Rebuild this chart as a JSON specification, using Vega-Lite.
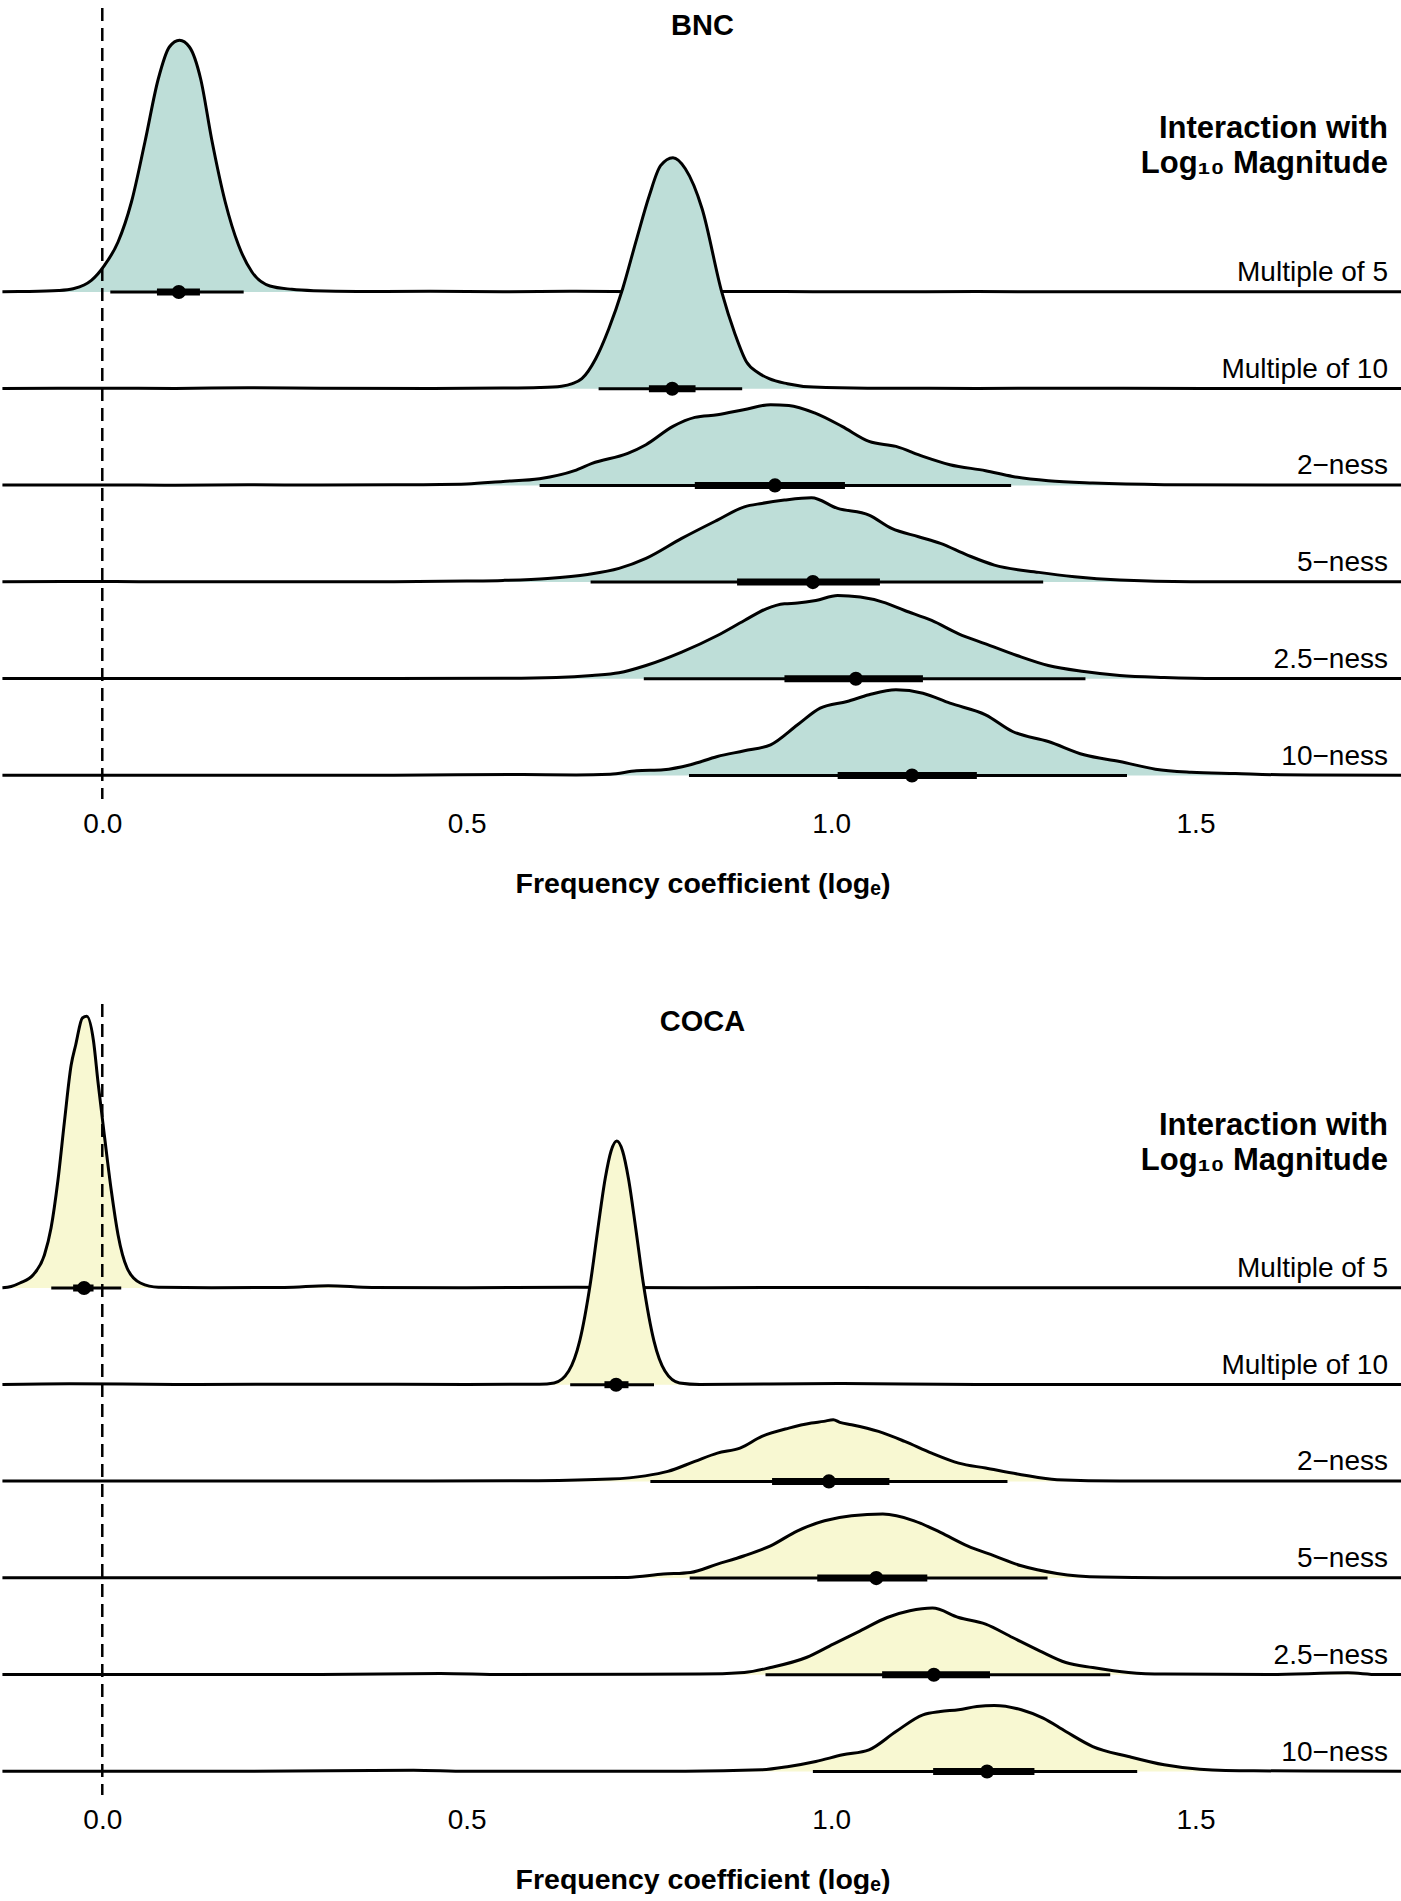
{
"$schema": "https://vega.github.io/schema/vega-lite/v6.json",
"padding": {"top": 6, "bottom": 0, "left": 0, "right": 0},
"background": "#ffffff",
"spacing": 104,
"config": {"view": {"stroke": null}, "font": "Liberation Sans"},
"datasets": {
"bnc": [
{"g":"Multiple of 5","k":"d","x":-0.137,"d":0.01},{"g":"Multiple of 5","k":"d","x":-0.1,"d":0.018},{"g":"Multiple of 5","k":"d","x":-0.06,"d":0.053},{"g":"Multiple of 5","k":"d","x":-0.04,"d":0.116},{"g":"Multiple of 5","k":"d","x":-0.025,"d":0.246},{"g":"Multiple of 5","k":"d","x":-0.015,"d":0.412},{"g":"Multiple of 5","k":"d","x":0.003,"d":0.94},{"g":"Multiple of 5","k":"d","x":0.0216,"d":1.761},{"g":"Multiple of 5","k":"d","x":0.04,"d":3.169},{"g":"Multiple of 5","k":"d","x":0.0585,"d":5.282},{"g":"Multiple of 5","k":"d","x":0.0768,"d":7.5},{"g":"Multiple of 5","k":"d","x":0.092,"d":8.627},{"g":"Multiple of 5","k":"d","x":0.106,"d":8.863},{"g":"Multiple of 5","k":"d","x":0.1196,"d":8.627},{"g":"Multiple of 5","k":"d","x":0.135,"d":7.5},{"g":"Multiple of 5","k":"d","x":0.15,"d":5.387},{"g":"Multiple of 5","k":"d","x":0.1687,"d":3.169},{"g":"Multiple of 5","k":"d","x":0.187,"d":1.644},{"g":"Multiple of 5","k":"d","x":0.2054,"d":0.704},{"g":"Multiple of 5","k":"d","x":0.23,"d":0.211},{"g":"Multiple of 5","k":"d","x":0.26,"d":0.095},{"g":"Multiple of 5","k":"d","x":0.29,"d":0.046},{"g":"Multiple of 5","k":"d","x":0.35,"d":0.018},{"g":"Multiple of 5","k":"d","x":0.45,"d":0.028},{"g":"Multiple of 5","k":"d","x":0.55,"d":0.011},{"g":"Multiple of 5","k":"d","x":0.65,"d":0.025},{"g":"Multiple of 5","k":"d","x":0.75,"d":0.007},{"g":"Multiple of 5","k":"d","x":0.9,"d":0.018},{"g":"Multiple of 5","k":"d","x":1.05,"d":0.007},{"g":"Multiple of 5","k":"d","x":1.2,"d":0.014},{"g":"Multiple of 5","k":"d","x":1.4,"d":0.007},{"g":"Multiple of 5","k":"d","x":1.6,"d":0.011},{"g":"Multiple of 5","k":"d","x":1.784,"d":0.007},
{"g":"Multiple of 5","k":"95","x":0.011,"x2":0.194,"d":0},{"g":"Multiple of 5","k":"66","x":0.075,"x2":0.134,"d":0},{"g":"Multiple of 5","k":"m","x":0.105,"d":0},
{"g":"Multiple of 10","k":"d","x":-0.137,"d":0.011},{"g":"Multiple of 10","k":"d","x":0.0,"d":0.018},{"g":"Multiple of 10","k":"d","x":0.1,"d":0.011},{"g":"Multiple of 10","k":"d","x":0.2,"d":0.035},{"g":"Multiple of 10","k":"d","x":0.3,"d":0.018},{"g":"Multiple of 10","k":"d","x":0.45,"d":0.011},{"g":"Multiple of 10","k":"d","x":0.55,"d":0.021},{"g":"Multiple of 10","k":"d","x":0.6,"d":0.042},{"g":"Multiple of 10","k":"d","x":0.63,"d":0.088},{"g":"Multiple of 10","k":"d","x":0.645,"d":0.176},{"g":"Multiple of 10","k":"d","x":0.658,"d":0.352},{"g":"Multiple of 10","k":"d","x":0.677,"d":1.056},{"g":"Multiple of 10","k":"d","x":0.695,"d":2.113},{"g":"Multiple of 10","k":"d","x":0.714,"d":3.521},{"g":"Multiple of 10","k":"d","x":0.732,"d":5.162},{"g":"Multiple of 10","k":"d","x":0.7505,"d":6.796},{"g":"Multiple of 10","k":"d","x":0.766,"d":7.852},{"g":"Multiple of 10","k":"d","x":0.783,"d":8.134},{"g":"Multiple of 10","k":"d","x":0.8,"d":7.746},{"g":"Multiple of 10","k":"d","x":0.823,"d":6.338},{"g":"Multiple of 10","k":"d","x":0.85,"d":3.401},{"g":"Multiple of 10","k":"d","x":0.868,"d":1.937},{"g":"Multiple of 10","k":"d","x":0.884,"d":0.937},{"g":"Multiple of 10","k":"d","x":0.9,"d":0.563},{"g":"Multiple of 10","k":"d","x":0.915,"d":0.352},{"g":"Multiple of 10","k":"d","x":0.94,"d":0.176},{"g":"Multiple of 10","k":"d","x":0.976,"d":0.056},{"g":"Multiple of 10","k":"d","x":1.05,"d":0.018},{"g":"Multiple of 10","k":"d","x":1.2,"d":0.011},{"g":"Multiple of 10","k":"d","x":1.4,"d":0.014},{"g":"Multiple of 10","k":"d","x":1.6,"d":0.007},{"g":"Multiple of 10","k":"d","x":1.784,"d":0.011},
{"g":"Multiple of 10","k":"95","x":0.681,"x2":0.878,"d":0},{"g":"Multiple of 10","k":"66","x":0.75,"x2":0.814,"d":0},{"g":"Multiple of 10","k":"m","x":0.782,"d":0},
{"g":"2−ness","k":"d","x":-0.137,"d":0.011},{"g":"2−ness","k":"d","x":0.0,"d":0.018},{"g":"2−ness","k":"d","x":0.1,"d":0.007},{"g":"2−ness","k":"d","x":0.2,"d":0.025},{"g":"2−ness","k":"d","x":0.3,"d":0.011},{"g":"2−ness","k":"d","x":0.4,"d":0.021},{"g":"2−ness","k":"d","x":0.5,"d":0.053},{"g":"2−ness","k":"d","x":0.55,"d":0.141},{"g":"2−ness","k":"d","x":0.6,"d":0.236},{"g":"2−ness","k":"d","x":0.648,"d":0.518},{"g":"2−ness","k":"d","x":0.672,"d":0.775},{"g":"2−ness","k":"d","x":0.721,"d":1.127},{"g":"2−ness","k":"d","x":0.746,"d":1.433},{"g":"2−ness","k":"d","x":0.783,"d":2.077},{"g":"2−ness","k":"d","x":0.813,"d":2.394},{"g":"2−ness","k":"d","x":0.844,"d":2.489},{"g":"2−ness","k":"d","x":0.88,"d":2.665},{"g":"2−ness","k":"d","x":0.917,"d":2.842},{"g":"2−ness","k":"d","x":0.942,"d":2.817},{"g":"2−ness","k":"d","x":0.979,"d":2.535},{"g":"2−ness","k":"d","x":1.015,"d":2.077},{"g":"2−ness","k":"d","x":1.052,"d":1.549},{"g":"2−ness","k":"d","x":1.089,"d":1.373},{"g":"2−ness","k":"d","x":1.126,"d":1.021},{"g":"2−ness","k":"d","x":1.163,"d":0.729},{"g":"2−ness","k":"d","x":1.212,"d":0.518},{"g":"2−ness","k":"d","x":1.249,"d":0.317},{"g":"2−ness","k":"d","x":1.298,"d":0.165},{"g":"2−ness","k":"d","x":1.359,"d":0.081},{"g":"2−ness","k":"d","x":1.457,"d":0.025},{"g":"2−ness","k":"d","x":1.6,"d":0.011},{"g":"2−ness","k":"d","x":1.784,"d":0.011},
{"g":"2−ness","k":"95","x":0.6,"x2":1.247,"d":0},{"g":"2−ness","k":"66","x":0.813,"x2":1.019,"d":0},{"g":"2−ness","k":"m","x":0.923,"d":0},
{"g":"5−ness","k":"d","x":-0.137,"d":0.011},{"g":"5−ness","k":"d","x":0.0,"d":0.021},{"g":"5−ness","k":"d","x":0.1,"d":0.011},{"g":"5−ness","k":"d","x":0.25,"d":0.014},{"g":"5−ness","k":"d","x":0.4,"d":0.011},{"g":"5−ness","k":"d","x":0.5,"d":0.035},{"g":"5−ness","k":"d","x":0.55,"d":0.06},{"g":"5−ness","k":"d","x":0.611,"d":0.13},{"g":"5−ness","k":"d","x":0.666,"d":0.271},{"g":"5−ness","k":"d","x":0.709,"d":0.482},{"g":"5−ness","k":"d","x":0.746,"d":0.835},{"g":"5−ness","k":"d","x":0.795,"d":1.539},{"g":"5−ness","k":"d","x":0.844,"d":2.183},{"g":"5−ness","k":"d","x":0.881,"d":2.651},{"g":"5−ness","k":"d","x":0.905,"d":2.771},{"g":"5−ness","k":"d","x":0.936,"d":2.887},{"g":"5−ness","k":"d","x":0.973,"d":2.968},{"g":"5−ness","k":"d","x":1.009,"d":2.595},{"g":"5−ness","k":"d","x":1.052,"d":2.359},{"g":"5−ness","k":"d","x":1.083,"d":1.891},{"g":"5−ness","k":"d","x":1.12,"d":1.595},{"g":"5−ness","k":"d","x":1.15,"d":1.363},{"g":"5−ness","k":"d","x":1.187,"d":0.951},{"g":"5−ness","k":"d","x":1.224,"d":0.599},{"g":"5−ness","k":"d","x":1.285,"d":0.342},{"g":"5−ness","k":"d","x":1.334,"d":0.187},{"g":"5−ness","k":"d","x":1.396,"d":0.07},{"g":"5−ness","k":"d","x":1.494,"d":0.011},{"g":"5−ness","k":"d","x":1.65,"d":0.011},{"g":"5−ness","k":"d","x":1.784,"d":0.011},
{"g":"5−ness","k":"95","x":0.67,"x2":1.291,"d":0},{"g":"5−ness","k":"66","x":0.871,"x2":1.067,"d":0},{"g":"5−ness","k":"m","x":0.975,"d":0},
{"g":"2.5−ness","k":"d","x":-0.137,"d":0.011},{"g":"2.5−ness","k":"d","x":0.0,"d":0.011},{"g":"2.5−ness","k":"d","x":0.2,"d":0.011},{"g":"2.5−ness","k":"d","x":0.4,"d":0.011},{"g":"2.5−ness","k":"d","x":0.55,"d":0.018},{"g":"2.5−ness","k":"d","x":0.623,"d":0.046},{"g":"2.5−ness","k":"d","x":0.672,"d":0.116},{"g":"2.5−ness","k":"d","x":0.709,"d":0.211},{"g":"2.5−ness","k":"d","x":0.746,"d":0.468},{"g":"2.5−ness","k":"d","x":0.795,"d":0.94},{"g":"2.5−ness","k":"d","x":0.844,"d":1.525},{"g":"2.5−ness","k":"d","x":0.881,"d":2.053},{"g":"2.5−ness","k":"d","x":0.911,"d":2.465},{"g":"2.5−ness","k":"d","x":0.936,"d":2.641},{"g":"2.5−ness","k":"d","x":0.954,"d":2.665},{"g":"2.5−ness","k":"d","x":0.979,"d":2.757},{"g":"2.5−ness","k":"d","x":1.009,"d":2.933},{"g":"2.5−ness","k":"d","x":1.04,"d":2.877},{"g":"2.5−ness","k":"d","x":1.071,"d":2.701},{"g":"2.5−ness","k":"d","x":1.101,"d":2.405},{"g":"2.5−ness","k":"d","x":1.138,"d":2.053},{"g":"2.5−ness","k":"d","x":1.175,"d":1.585},{"g":"2.5−ness","k":"d","x":1.212,"d":1.232},{"g":"2.5−ness","k":"d","x":1.255,"d":0.82},{"g":"2.5−ness","k":"d","x":1.298,"d":0.468},{"g":"2.5−ness","k":"d","x":1.347,"d":0.257},{"g":"2.5−ness","k":"d","x":1.396,"d":0.116},{"g":"2.5−ness","k":"d","x":1.457,"d":0.046},{"g":"2.5−ness","k":"d","x":1.53,"d":0.011},{"g":"2.5−ness","k":"d","x":1.784,"d":0.011},
{"g":"2.5−ness","k":"95","x":0.743,"x2":1.349,"d":0},{"g":"2.5−ness","k":"66","x":0.936,"x2":1.126,"d":0},{"g":"2.5−ness","k":"m","x":1.034,"d":0},
{"g":"10−ness","k":"d","x":-0.137,"d":0.011},{"g":"10−ness","k":"d","x":0.0,"d":0.011},{"g":"10−ness","k":"d","x":0.2,"d":0.011},{"g":"10−ness","k":"d","x":0.4,"d":0.011},{"g":"10−ness","k":"d","x":0.574,"d":0.035},{"g":"10−ness","k":"d","x":0.65,"d":0.018},{"g":"10−ness","k":"d","x":0.697,"d":0.046},{"g":"10−ness","k":"d","x":0.733,"d":0.165},{"g":"10−ness","k":"d","x":0.77,"d":0.201},{"g":"10−ness","k":"d","x":0.807,"d":0.377},{"g":"10−ness","k":"d","x":0.844,"d":0.669},{"g":"10−ness","k":"d","x":0.881,"d":0.87},{"g":"10−ness","k":"d","x":0.917,"d":1.081},{"g":"10−ness","k":"d","x":0.954,"d":1.785},{"g":"10−ness","k":"d","x":0.985,"d":2.37},{"g":"10−ness","k":"d","x":1.022,"d":2.606},{"g":"10−ness","k":"d","x":1.052,"d":2.842},{"g":"10−ness","k":"d","x":1.089,"d":3.018},{"g":"10−ness","k":"d","x":1.126,"d":2.898},{"g":"10−ness","k":"d","x":1.163,"d":2.546},{"g":"10−ness","k":"d","x":1.212,"d":2.137},{"g":"10−ness","k":"d","x":1.249,"d":1.549},{"g":"10−ness","k":"d","x":1.298,"d":1.197},{"g":"10−ness","k":"d","x":1.347,"d":0.729},{"g":"10−ness","k":"d","x":1.396,"d":0.493},{"g":"10−ness","k":"d","x":1.445,"d":0.222},{"g":"10−ness","k":"d","x":1.494,"d":0.116},{"g":"10−ness","k":"d","x":1.555,"d":0.07},{"g":"10−ness","k":"d","x":1.617,"d":0.025},{"g":"10−ness","k":"d","x":1.784,"d":0.011},
{"g":"10−ness","k":"95","x":0.805,"x2":1.406,"d":0},{"g":"10−ness","k":"66","x":1.009,"x2":1.2,"d":0},{"g":"10−ness","k":"m","x":1.111,"d":0}
],
"coca": [
{"g":"Multiple of 5","k":"d","x":-0.137,"d":0.016},{"g":"Multiple of 5","k":"d","x":-0.125,"d":0.082},{"g":"Multiple of 5","k":"d","x":-0.113,"d":0.273},{"g":"Multiple of 5","k":"d","x":-0.0947,"d":0.727},{"g":"Multiple of 5","k":"d","x":-0.0794,"d":1.803},{"g":"Multiple of 5","k":"d","x":-0.0703,"d":3.279},{"g":"Multiple of 5","k":"d","x":-0.061,"d":5.831},{"g":"Multiple of 5","k":"d","x":-0.0519,"d":9.109},{"g":"Multiple of 5","k":"d","x":-0.0427,"d":12.186},{"g":"Multiple of 5","k":"d","x":-0.0365,"d":13.279},{"g":"Multiple of 5","k":"d","x":-0.0273,"d":14.754},{"g":"Multiple of 5","k":"d","x":-0.0213,"d":14.847},{"g":"Multiple of 5","k":"d","x":-0.012,"d":13.481},{"g":"Multiple of 5","k":"d","x":-0.006,"d":11.295},{"g":"Multiple of 5","k":"d","x":0.0033,"d":8.197},{"g":"Multiple of 5","k":"d","x":0.0125,"d":5.284},{"g":"Multiple of 5","k":"d","x":0.0216,"d":2.913},{"g":"Multiple of 5","k":"d","x":0.034,"d":1.093},{"g":"Multiple of 5","k":"d","x":0.0523,"d":0.273},{"g":"Multiple of 5","k":"d","x":0.077,"d":0.038},{"g":"Multiple of 5","k":"d","x":0.15,"d":0.016},{"g":"Multiple of 5","k":"d","x":0.25,"d":0.027},{"g":"Multiple of 5","k":"d","x":0.31,"d":0.126},{"g":"Multiple of 5","k":"d","x":0.37,"d":0.027},{"g":"Multiple of 5","k":"d","x":0.5,"d":0.016},{"g":"Multiple of 5","k":"d","x":0.65,"d":0.044},{"g":"Multiple of 5","k":"d","x":0.8,"d":0.016},{"g":"Multiple of 5","k":"d","x":1.0,"d":0.027},{"g":"Multiple of 5","k":"d","x":1.2,"d":0.016},{"g":"Multiple of 5","k":"d","x":1.5,"d":0.016},{"g":"Multiple of 5","k":"d","x":1.784,"d":0.016},
{"g":"Multiple of 5","k":"95","x":-0.07,"x2":0.026,"d":0},{"g":"Multiple of 5","k":"66","x":-0.04,"x2":-0.012,"d":0},{"g":"Multiple of 5","k":"m","x":-0.025,"d":0},
{"g":"Multiple of 10","k":"d","x":-0.137,"d":0.016},{"g":"Multiple of 10","k":"d","x":-0.045,"d":0.055},{"g":"Multiple of 10","k":"d","x":0.1,"d":0.016},{"g":"Multiple of 10","k":"d","x":0.3,"d":0.027},{"g":"Multiple of 10","k":"d","x":0.5,"d":0.016},{"g":"Multiple of 10","k":"d","x":0.6,"d":0.027},{"g":"Multiple of 10","k":"d","x":0.62,"d":0.098},{"g":"Multiple of 10","k":"d","x":0.64,"d":0.749},{"g":"Multiple of 10","k":"d","x":0.655,"d":2.383},{"g":"Multiple of 10","k":"d","x":0.67,"d":5.628},{"g":"Multiple of 10","k":"d","x":0.68,"d":8.525},{"g":"Multiple of 10","k":"d","x":0.69,"d":11.257},{"g":"Multiple of 10","k":"d","x":0.698,"d":12.76},{"g":"Multiple of 10","k":"d","x":0.706,"d":13.317},{"g":"Multiple of 10","k":"d","x":0.714,"d":12.76},{"g":"Multiple of 10","k":"d","x":0.722,"d":11.257},{"g":"Multiple of 10","k":"d","x":0.732,"d":8.525},{"g":"Multiple of 10","k":"d","x":0.742,"d":5.628},{"g":"Multiple of 10","k":"d","x":0.757,"d":2.383},{"g":"Multiple of 10","k":"d","x":0.772,"d":0.749},{"g":"Multiple of 10","k":"d","x":0.792,"d":0.098},{"g":"Multiple of 10","k":"d","x":0.82,"d":0.016},{"g":"Multiple of 10","k":"d","x":1.01,"d":0.066},{"g":"Multiple of 10","k":"d","x":1.2,"d":0.016},{"g":"Multiple of 10","k":"d","x":1.5,"d":0.016},{"g":"Multiple of 10","k":"d","x":1.784,"d":0.016},
{"g":"Multiple of 10","k":"95","x":0.642,"x2":0.757,"d":0},{"g":"Multiple of 10","k":"66","x":0.689,"x2":0.722,"d":0},{"g":"Multiple of 10","k":"m","x":0.705,"d":0},
{"g":"2−ness","k":"d","x":-0.137,"d":0.016},{"g":"2−ness","k":"d","x":0.2,"d":0.016},{"g":"2−ness","k":"d","x":0.45,"d":0.016},{"g":"2−ness","k":"d","x":0.598,"d":0.038},{"g":"2−ness","k":"d","x":0.697,"d":0.126},{"g":"2−ness","k":"d","x":0.745,"d":0.301},{"g":"2−ness","k":"d","x":0.776,"d":0.546},{"g":"2−ness","k":"d","x":0.813,"d":1.093},{"g":"2−ness","k":"d","x":0.844,"d":1.546},{"g":"2−ness","k":"d","x":0.875,"d":1.82},{"g":"2−ness","k":"d","x":0.905,"d":2.459},{"g":"2−ness","k":"d","x":0.942,"d":2.913},{"g":"2−ness","k":"d","x":0.973,"d":3.186},{"g":"2−ness","k":"d","x":0.99,"d":3.279},{"g":"2−ness","k":"d","x":1.003,"d":3.372},{"g":"2−ness","k":"d","x":1.012,"d":3.224},{"g":"2−ness","k":"d","x":1.028,"d":3.098},{"g":"2−ness","k":"d","x":1.065,"d":2.732},{"g":"2−ness","k":"d","x":1.101,"d":2.186},{"g":"2−ness","k":"d","x":1.138,"d":1.546},{"g":"2−ness","k":"d","x":1.175,"d":1.0},{"g":"2−ness","k":"d","x":1.212,"d":0.727},{"g":"2−ness","k":"d","x":1.261,"d":0.366},{"g":"2−ness","k":"d","x":1.31,"d":0.093},{"g":"2−ness","k":"d","x":1.396,"d":0.016},{"g":"2−ness","k":"d","x":1.784,"d":0.016},
{"g":"2−ness","k":"95","x":0.752,"x2":1.242,"d":0},{"g":"2−ness","k":"66","x":0.919,"x2":1.08,"d":0},{"g":"2−ness","k":"m","x":0.997,"d":0},
{"g":"5−ness","k":"d","x":-0.137,"d":0.016},{"g":"5−ness","k":"d","x":0.3,"d":0.016},{"g":"5−ness","k":"d","x":0.6,"d":0.016},{"g":"5−ness","k":"d","x":0.721,"d":0.038},{"g":"5−ness","k":"d","x":0.77,"d":0.219},{"g":"5−ness","k":"d","x":0.807,"d":0.311},{"g":"5−ness","k":"d","x":0.844,"d":0.765},{"g":"5−ness","k":"d","x":0.881,"d":1.219},{"g":"5−ness","k":"d","x":0.917,"d":1.765},{"g":"5−ness","k":"d","x":0.954,"d":2.585},{"g":"5−ness","k":"d","x":0.991,"d":3.131},{"g":"5−ness","k":"d","x":1.028,"d":3.404},{"g":"5−ness","k":"d","x":1.071,"d":3.497},{"g":"5−ness","k":"d","x":1.114,"d":3.131},{"g":"5−ness","k":"d","x":1.15,"d":2.497},{"g":"5−ness","k":"d","x":1.187,"d":1.765},{"g":"5−ness","k":"d","x":1.224,"d":1.219},{"g":"5−ness","k":"d","x":1.261,"d":0.672},{"g":"5−ness","k":"d","x":1.31,"d":0.257},{"g":"5−ness","k":"d","x":1.371,"d":0.055},{"g":"5−ness","k":"d","x":1.457,"d":0.016},{"g":"5−ness","k":"d","x":1.784,"d":0.016},
{"g":"5−ness","k":"95","x":0.806,"x2":1.297,"d":0},{"g":"5−ness","k":"66","x":0.981,"x2":1.132,"d":0},{"g":"5−ness","k":"m","x":1.062,"d":0},
{"g":"2.5−ness","k":"d","x":-0.137,"d":0.016},{"g":"2.5−ness","k":"d","x":0.3,"d":0.016},{"g":"2.5−ness","k":"d","x":0.464,"d":0.071},{"g":"2.5−ness","k":"d","x":0.55,"d":0.016},{"g":"2.5−ness","k":"d","x":0.819,"d":0.038},{"g":"2.5−ness","k":"d","x":0.881,"d":0.126},{"g":"2.5−ness","k":"d","x":0.917,"d":0.399},{"g":"2.5−ness","k":"d","x":0.966,"d":0.945},{"g":"2.5−ness","k":"d","x":1.003,"d":1.678},{"g":"2.5−ness","k":"d","x":1.04,"d":2.404},{"g":"2.5−ness","k":"d","x":1.077,"d":3.131},{"g":"2.5−ness","k":"d","x":1.108,"d":3.497},{"g":"2.5−ness","k":"d","x":1.139,"d":3.645},{"g":"2.5−ness","k":"d","x":1.175,"d":3.131},{"g":"2.5−ness","k":"d","x":1.212,"d":2.77},{"g":"2.5−ness","k":"d","x":1.249,"d":2.038},{"g":"2.5−ness","k":"d","x":1.286,"d":1.311},{"g":"2.5−ness","k":"d","x":1.322,"d":0.672},{"g":"2.5−ness","k":"d","x":1.359,"d":0.399},{"g":"2.5−ness","k":"d","x":1.408,"d":0.126},{"g":"2.5−ness","k":"d","x":1.457,"d":0.038},{"g":"2.5−ness","k":"d","x":1.6,"d":0.016},{"g":"2.5−ness","k":"d","x":1.709,"d":0.109},{"g":"2.5−ness","k":"d","x":1.75,"d":0.016},{"g":"2.5−ness","k":"d","x":1.784,"d":0.016},
{"g":"2.5−ness","k":"95","x":0.91,"x2":1.383,"d":0},{"g":"2.5−ness","k":"66","x":1.07,"x2":1.218,"d":0},{"g":"2.5−ness","k":"m","x":1.141,"d":0},
{"g":"10−ness","k":"d","x":-0.137,"d":0.016},{"g":"10−ness","k":"d","x":0.2,"d":0.016},{"g":"10−ness","k":"d","x":0.427,"d":0.071},{"g":"10−ness","k":"d","x":0.5,"d":0.016},{"g":"10−ness","k":"d","x":0.8,"d":0.016},{"g":"10−ness","k":"d","x":0.905,"d":0.093},{"g":"10−ness","k":"d","x":0.942,"d":0.273},{"g":"10−ness","k":"d","x":0.979,"d":0.546},{"g":"10−ness","k":"d","x":1.016,"d":0.913},{"g":"10−ness","k":"d","x":1.052,"d":1.186},{"g":"10−ness","k":"d","x":1.089,"d":2.186},{"g":"10−ness","k":"d","x":1.126,"d":3.098},{"g":"10−ness","k":"d","x":1.15,"d":3.279},{"g":"10−ness","k":"d","x":1.175,"d":3.372},{"g":"10−ness","k":"d","x":1.2,"d":3.552},{"g":"10−ness","k":"d","x":1.224,"d":3.607},{"g":"10−ness","k":"d","x":1.261,"d":3.372},{"g":"10−ness","k":"d","x":1.291,"d":2.913},{"g":"10−ness","k":"d","x":1.322,"d":2.186},{"g":"10−ness","k":"d","x":1.359,"d":1.366},{"g":"10−ness","k":"d","x":1.408,"d":0.82},{"g":"10−ness","k":"d","x":1.457,"d":0.366},{"g":"10−ness","k":"d","x":1.506,"d":0.126},{"g":"10−ness","k":"d","x":1.58,"d":0.038},{"g":"10−ness","k":"d","x":1.784,"d":0.016},
{"g":"10−ness","k":"95","x":0.975,"x2":1.42,"d":0},{"g":"10−ness","k":"66","x":1.14,"x2":1.279,"d":0},{"g":"10−ness","k":"m","x":1.214,"d":0}
]
},
"vconcat": [
{
"data": {"name": "bnc"},
"width": 1401, "height": 791,
"title": {"text": "BNC", "fontSize": 29, "fontWeight": "bold", "color": "#000000", "anchor": "middle", "offset": -34},
"encoding": {"x": {"field": "x", "type": "quantitative", "scale": {"domain": [-0.1376, 1.7847], "nice": false, "zero": false},
  "axis": {"values": [0, 0.5, 1, 1.5], "format": ".1f", "domain": false, "ticks": false, "grid": false, "labelFontSize": 28, "labelColor": "#000000", "labelPadding": 11, "title": "Frequency coefficient (logₑ)", "titleFontSize": 28.5, "titleFontWeight": "bold", "titleColor": "#000000", "titlePadding": 31}}},
"resolve": {"scale": {"y": "independent"}},
"layer": [
{"transform": [{"filter": {"field": "g", "equal": "Multiple of 5"}}],
 "encoding": {"y": {"field": "d", "type": "quantitative", "scale": {"domain": [0, 10], "range": [284, 0]}, "axis": null}},
 "layer": [
  {"transform": [{"filter": {"field": "k", "equal": "d"}}], "mark": {"type": "area", "fill": "#BEDED8", "interpolate": "monotone"}},
  {"transform": [{"filter": {"field": "k", "equal": "d"}}], "mark": {"type": "line", "stroke": "#000000", "strokeWidth": 3, "interpolate": "monotone", "strokeJoin": "round"}},
  {"transform": [{"filter": {"field": "k", "equal": "95"}}], "mark": {"type": "rule", "stroke": "#000000", "strokeWidth": 3}, "encoding": {"x2": {"field": "x2"}}},
  {"transform": [{"filter": {"field": "k", "equal": "66"}}], "mark": {"type": "rule", "stroke": "#000000", "strokeWidth": 7}, "encoding": {"x2": {"field": "x2"}}},
  {"transform": [{"filter": {"field": "k", "equal": "m"}}], "mark": {"type": "circle", "fill": "#000000", "size": 200, "opacity": 1}},
  {"transform": [{"filter": {"field": "k", "equal": "m"}}], "mark": {"type": "text", "align": "right", "baseline": "alphabetic", "dy": -11, "fontSize": 28, "color": "#000000"}, "encoding": {"x": {"datum": 1.7641}, "text": {"field": "g"}}},
  {"transform": [{"filter": {"field": "k", "equal": "m"}}], "mark": {"type": "text", "text": ["Interaction with", "Log₁₀ Magnitude"], "align": "right", "baseline": "middle", "lineHeight": 35, "fontSize": 31, "fontWeight": "bold", "color": "#000000"}, "encoding": {"x": {"datum": 1.7641}, "y": {"datum": 5.757}}}
 ]},
{"transform": [{"filter": {"field": "g", "equal": "Multiple of 10"}}],
 "encoding": {"y": {"field": "d", "type": "quantitative", "scale": {"domain": [0, 10], "range": [380.7, 96.7]}, "axis": null}},
 "layer": [
  {"transform": [{"filter": {"field": "k", "equal": "d"}}], "mark": {"type": "area", "fill": "#BEDED8", "interpolate": "monotone"}},
  {"transform": [{"filter": {"field": "k", "equal": "d"}}], "mark": {"type": "line", "stroke": "#000000", "strokeWidth": 3, "interpolate": "monotone", "strokeJoin": "round"}},
  {"transform": [{"filter": {"field": "k", "equal": "95"}}], "mark": {"type": "rule", "stroke": "#000000", "strokeWidth": 3}, "encoding": {"x2": {"field": "x2"}}},
  {"transform": [{"filter": {"field": "k", "equal": "66"}}], "mark": {"type": "rule", "stroke": "#000000", "strokeWidth": 7}, "encoding": {"x2": {"field": "x2"}}},
  {"transform": [{"filter": {"field": "k", "equal": "m"}}], "mark": {"type": "circle", "fill": "#000000", "size": 200, "opacity": 1}},
  {"transform": [{"filter": {"field": "k", "equal": "m"}}], "mark": {"type": "text", "align": "right", "baseline": "alphabetic", "dy": -11, "fontSize": 28, "color": "#000000"}, "encoding": {"x": {"datum": 1.7641}, "text": {"field": "g"}}}
 ]},
{"transform": [{"filter": {"field": "g", "equal": "2−ness"}}],
 "encoding": {"y": {"field": "d", "type": "quantitative", "scale": {"domain": [0, 10], "range": [477.4, 193.4]}, "axis": null}},
 "layer": [
  {"transform": [{"filter": {"field": "k", "equal": "d"}}], "mark": {"type": "area", "fill": "#BEDED8", "interpolate": "monotone"}},
  {"transform": [{"filter": {"field": "k", "equal": "d"}}], "mark": {"type": "line", "stroke": "#000000", "strokeWidth": 3, "interpolate": "monotone", "strokeJoin": "round"}},
  {"transform": [{"filter": {"field": "k", "equal": "95"}}], "mark": {"type": "rule", "stroke": "#000000", "strokeWidth": 3}, "encoding": {"x2": {"field": "x2"}}},
  {"transform": [{"filter": {"field": "k", "equal": "66"}}], "mark": {"type": "rule", "stroke": "#000000", "strokeWidth": 7}, "encoding": {"x2": {"field": "x2"}}},
  {"transform": [{"filter": {"field": "k", "equal": "m"}}], "mark": {"type": "circle", "fill": "#000000", "size": 200, "opacity": 1}},
  {"transform": [{"filter": {"field": "k", "equal": "m"}}], "mark": {"type": "text", "align": "right", "baseline": "alphabetic", "dy": -11, "fontSize": 28, "color": "#000000"}, "encoding": {"x": {"datum": 1.7641}, "text": {"field": "g"}}}
 ]},
{"transform": [{"filter": {"field": "g", "equal": "5−ness"}}],
 "encoding": {"y": {"field": "d", "type": "quantitative", "scale": {"domain": [0, 10], "range": [574.1, 290.1]}, "axis": null}},
 "layer": [
  {"transform": [{"filter": {"field": "k", "equal": "d"}}], "mark": {"type": "area", "fill": "#BEDED8", "interpolate": "monotone"}},
  {"transform": [{"filter": {"field": "k", "equal": "d"}}], "mark": {"type": "line", "stroke": "#000000", "strokeWidth": 3, "interpolate": "monotone", "strokeJoin": "round"}},
  {"transform": [{"filter": {"field": "k", "equal": "95"}}], "mark": {"type": "rule", "stroke": "#000000", "strokeWidth": 3}, "encoding": {"x2": {"field": "x2"}}},
  {"transform": [{"filter": {"field": "k", "equal": "66"}}], "mark": {"type": "rule", "stroke": "#000000", "strokeWidth": 7}, "encoding": {"x2": {"field": "x2"}}},
  {"transform": [{"filter": {"field": "k", "equal": "m"}}], "mark": {"type": "circle", "fill": "#000000", "size": 200, "opacity": 1}},
  {"transform": [{"filter": {"field": "k", "equal": "m"}}], "mark": {"type": "text", "align": "right", "baseline": "alphabetic", "dy": -11, "fontSize": 28, "color": "#000000"}, "encoding": {"x": {"datum": 1.7641}, "text": {"field": "g"}}}
 ]},
{"transform": [{"filter": {"field": "g", "equal": "2.5−ness"}}],
 "encoding": {"y": {"field": "d", "type": "quantitative", "scale": {"domain": [0, 10], "range": [670.8, 386.8]}, "axis": null}},
 "layer": [
  {"transform": [{"filter": {"field": "k", "equal": "d"}}], "mark": {"type": "area", "fill": "#BEDED8", "interpolate": "monotone"}},
  {"transform": [{"filter": {"field": "k", "equal": "d"}}], "mark": {"type": "line", "stroke": "#000000", "strokeWidth": 3, "interpolate": "monotone", "strokeJoin": "round"}},
  {"transform": [{"filter": {"field": "k", "equal": "95"}}], "mark": {"type": "rule", "stroke": "#000000", "strokeWidth": 3}, "encoding": {"x2": {"field": "x2"}}},
  {"transform": [{"filter": {"field": "k", "equal": "66"}}], "mark": {"type": "rule", "stroke": "#000000", "strokeWidth": 7}, "encoding": {"x2": {"field": "x2"}}},
  {"transform": [{"filter": {"field": "k", "equal": "m"}}], "mark": {"type": "circle", "fill": "#000000", "size": 200, "opacity": 1}},
  {"transform": [{"filter": {"field": "k", "equal": "m"}}], "mark": {"type": "text", "align": "right", "baseline": "alphabetic", "dy": -11, "fontSize": 28, "color": "#000000"}, "encoding": {"x": {"datum": 1.7641}, "text": {"field": "g"}}}
 ]},
{"transform": [{"filter": {"field": "g", "equal": "10−ness"}}],
 "encoding": {"y": {"field": "d", "type": "quantitative", "scale": {"domain": [0, 10], "range": [767.5, 483.5]}, "axis": null}},
 "layer": [
  {"transform": [{"filter": {"field": "k", "equal": "d"}}], "mark": {"type": "area", "fill": "#BEDED8", "interpolate": "monotone"}},
  {"transform": [{"filter": {"field": "k", "equal": "d"}}], "mark": {"type": "line", "stroke": "#000000", "strokeWidth": 3, "interpolate": "monotone", "strokeJoin": "round"}},
  {"transform": [{"filter": {"field": "k", "equal": "95"}}], "mark": {"type": "rule", "stroke": "#000000", "strokeWidth": 3}, "encoding": {"x2": {"field": "x2"}}},
  {"transform": [{"filter": {"field": "k", "equal": "66"}}], "mark": {"type": "rule", "stroke": "#000000", "strokeWidth": 7}, "encoding": {"x2": {"field": "x2"}}},
  {"transform": [{"filter": {"field": "k", "equal": "m"}}], "mark": {"type": "circle", "fill": "#000000", "size": 200, "opacity": 1}},
  {"transform": [{"filter": {"field": "k", "equal": "m"}}], "mark": {"type": "text", "align": "right", "baseline": "alphabetic", "dy": -11, "fontSize": 28, "color": "#000000"}, "encoding": {"x": {"datum": 1.7641}, "text": {"field": "g"}}}
 ]},
{"data": {"values": [{"x": 0}]}, "mark": {"type": "rule", "stroke": "#000000", "strokeWidth": 2.5, "strokeDash": [13, 7]}}
]
},
{
"data": {"name": "coca"},
"width": 1401, "height": 791,
"title": {"text": "COCA", "fontSize": 29, "fontWeight": "bold", "color": "#000000", "anchor": "middle", "offset": -34},
"encoding": {"x": {"field": "x", "type": "quantitative", "scale": {"domain": [-0.1376, 1.7847], "nice": false, "zero": false},
  "axis": {"values": [0, 0.5, 1, 1.5], "format": ".1f", "domain": false, "ticks": false, "grid": false, "labelFontSize": 28, "labelColor": "#000000", "labelPadding": 11, "title": "Frequency coefficient (logₑ)", "titleFontSize": 28.5, "titleFontWeight": "bold", "titleColor": "#000000", "titlePadding": 31}}},
"resolve": {"scale": {"y": "independent"}},
"layer": [
{"transform": [{"filter": {"field": "g", "equal": "Multiple of 5"}}],
 "encoding": {"y": {"field": "d", "type": "quantitative", "scale": {"domain": [0, 15], "range": [284, 9.5]}, "axis": null}},
 "layer": [
  {"transform": [{"filter": {"field": "k", "equal": "d"}}], "mark": {"type": "area", "fill": "#F8F8D2", "interpolate": "monotone"}},
  {"transform": [{"filter": {"field": "k", "equal": "d"}}], "mark": {"type": "line", "stroke": "#000000", "strokeWidth": 3, "interpolate": "monotone", "strokeJoin": "round"}},
  {"transform": [{"filter": {"field": "k", "equal": "95"}}], "mark": {"type": "rule", "stroke": "#000000", "strokeWidth": 3}, "encoding": {"x2": {"field": "x2"}}},
  {"transform": [{"filter": {"field": "k", "equal": "66"}}], "mark": {"type": "rule", "stroke": "#000000", "strokeWidth": 7}, "encoding": {"x2": {"field": "x2"}}},
  {"transform": [{"filter": {"field": "k", "equal": "m"}}], "mark": {"type": "circle", "fill": "#000000", "size": 200, "opacity": 1}},
  {"transform": [{"filter": {"field": "k", "equal": "m"}}], "mark": {"type": "text", "align": "right", "baseline": "alphabetic", "dy": -11, "fontSize": 28, "color": "#000000"}, "encoding": {"x": {"datum": 1.7641}, "text": {"field": "g"}}},
  {"transform": [{"filter": {"field": "k", "equal": "m"}}], "mark": {"type": "text", "text": ["Interaction with", "Log₁₀ Magnitude"], "align": "right", "baseline": "middle", "lineHeight": 35, "fontSize": 31, "fontWeight": "bold", "color": "#000000"}, "encoding": {"x": {"datum": 1.7641}, "y": {"datum": 8.879}}}
 ]},
{"transform": [{"filter": {"field": "g", "equal": "Multiple of 10"}}],
 "encoding": {"y": {"field": "d", "type": "quantitative", "scale": {"domain": [0, 15], "range": [380.7, 106.2]}, "axis": null}},
 "layer": [
  {"transform": [{"filter": {"field": "k", "equal": "d"}}], "mark": {"type": "area", "fill": "#F8F8D2", "interpolate": "monotone"}},
  {"transform": [{"filter": {"field": "k", "equal": "d"}}], "mark": {"type": "line", "stroke": "#000000", "strokeWidth": 3, "interpolate": "monotone", "strokeJoin": "round"}},
  {"transform": [{"filter": {"field": "k", "equal": "95"}}], "mark": {"type": "rule", "stroke": "#000000", "strokeWidth": 3}, "encoding": {"x2": {"field": "x2"}}},
  {"transform": [{"filter": {"field": "k", "equal": "66"}}], "mark": {"type": "rule", "stroke": "#000000", "strokeWidth": 7}, "encoding": {"x2": {"field": "x2"}}},
  {"transform": [{"filter": {"field": "k", "equal": "m"}}], "mark": {"type": "circle", "fill": "#000000", "size": 200, "opacity": 1}},
  {"transform": [{"filter": {"field": "k", "equal": "m"}}], "mark": {"type": "text", "align": "right", "baseline": "alphabetic", "dy": -11, "fontSize": 28, "color": "#000000"}, "encoding": {"x": {"datum": 1.7641}, "text": {"field": "g"}}}
 ]},
{"transform": [{"filter": {"field": "g", "equal": "2−ness"}}],
 "encoding": {"y": {"field": "d", "type": "quantitative", "scale": {"domain": [0, 15], "range": [477.4, 202.9]}, "axis": null}},
 "layer": [
  {"transform": [{"filter": {"field": "k", "equal": "d"}}], "mark": {"type": "area", "fill": "#F8F8D2", "interpolate": "monotone"}},
  {"transform": [{"filter": {"field": "k", "equal": "d"}}], "mark": {"type": "line", "stroke": "#000000", "strokeWidth": 3, "interpolate": "monotone", "strokeJoin": "round"}},
  {"transform": [{"filter": {"field": "k", "equal": "95"}}], "mark": {"type": "rule", "stroke": "#000000", "strokeWidth": 3}, "encoding": {"x2": {"field": "x2"}}},
  {"transform": [{"filter": {"field": "k", "equal": "66"}}], "mark": {"type": "rule", "stroke": "#000000", "strokeWidth": 7}, "encoding": {"x2": {"field": "x2"}}},
  {"transform": [{"filter": {"field": "k", "equal": "m"}}], "mark": {"type": "circle", "fill": "#000000", "size": 200, "opacity": 1}},
  {"transform": [{"filter": {"field": "k", "equal": "m"}}], "mark": {"type": "text", "align": "right", "baseline": "alphabetic", "dy": -11, "fontSize": 28, "color": "#000000"}, "encoding": {"x": {"datum": 1.7641}, "text": {"field": "g"}}}
 ]},
{"transform": [{"filter": {"field": "g", "equal": "5−ness"}}],
 "encoding": {"y": {"field": "d", "type": "quantitative", "scale": {"domain": [0, 15], "range": [574.1, 299.6]}, "axis": null}},
 "layer": [
  {"transform": [{"filter": {"field": "k", "equal": "d"}}], "mark": {"type": "area", "fill": "#F8F8D2", "interpolate": "monotone"}},
  {"transform": [{"filter": {"field": "k", "equal": "d"}}], "mark": {"type": "line", "stroke": "#000000", "strokeWidth": 3, "interpolate": "monotone", "strokeJoin": "round"}},
  {"transform": [{"filter": {"field": "k", "equal": "95"}}], "mark": {"type": "rule", "stroke": "#000000", "strokeWidth": 3}, "encoding": {"x2": {"field": "x2"}}},
  {"transform": [{"filter": {"field": "k", "equal": "66"}}], "mark": {"type": "rule", "stroke": "#000000", "strokeWidth": 7}, "encoding": {"x2": {"field": "x2"}}},
  {"transform": [{"filter": {"field": "k", "equal": "m"}}], "mark": {"type": "circle", "fill": "#000000", "size": 200, "opacity": 1}},
  {"transform": [{"filter": {"field": "k", "equal": "m"}}], "mark": {"type": "text", "align": "right", "baseline": "alphabetic", "dy": -11, "fontSize": 28, "color": "#000000"}, "encoding": {"x": {"datum": 1.7641}, "text": {"field": "g"}}}
 ]},
{"transform": [{"filter": {"field": "g", "equal": "2.5−ness"}}],
 "encoding": {"y": {"field": "d", "type": "quantitative", "scale": {"domain": [0, 15], "range": [670.8, 396.3]}, "axis": null}},
 "layer": [
  {"transform": [{"filter": {"field": "k", "equal": "d"}}], "mark": {"type": "area", "fill": "#F8F8D2", "interpolate": "monotone"}},
  {"transform": [{"filter": {"field": "k", "equal": "d"}}], "mark": {"type": "line", "stroke": "#000000", "strokeWidth": 3, "interpolate": "monotone", "strokeJoin": "round"}},
  {"transform": [{"filter": {"field": "k", "equal": "95"}}], "mark": {"type": "rule", "stroke": "#000000", "strokeWidth": 3}, "encoding": {"x2": {"field": "x2"}}},
  {"transform": [{"filter": {"field": "k", "equal": "66"}}], "mark": {"type": "rule", "stroke": "#000000", "strokeWidth": 7}, "encoding": {"x2": {"field": "x2"}}},
  {"transform": [{"filter": {"field": "k", "equal": "m"}}], "mark": {"type": "circle", "fill": "#000000", "size": 200, "opacity": 1}},
  {"transform": [{"filter": {"field": "k", "equal": "m"}}], "mark": {"type": "text", "align": "right", "baseline": "alphabetic", "dy": -11, "fontSize": 28, "color": "#000000"}, "encoding": {"x": {"datum": 1.7641}, "text": {"field": "g"}}}
 ]},
{"transform": [{"filter": {"field": "g", "equal": "10−ness"}}],
 "encoding": {"y": {"field": "d", "type": "quantitative", "scale": {"domain": [0, 15], "range": [767.5, 493]}, "axis": null}},
 "layer": [
  {"transform": [{"filter": {"field": "k", "equal": "d"}}], "mark": {"type": "area", "fill": "#F8F8D2", "interpolate": "monotone"}},
  {"transform": [{"filter": {"field": "k", "equal": "d"}}], "mark": {"type": "line", "stroke": "#000000", "strokeWidth": 3, "interpolate": "monotone", "strokeJoin": "round"}},
  {"transform": [{"filter": {"field": "k", "equal": "95"}}], "mark": {"type": "rule", "stroke": "#000000", "strokeWidth": 3}, "encoding": {"x2": {"field": "x2"}}},
  {"transform": [{"filter": {"field": "k", "equal": "66"}}], "mark": {"type": "rule", "stroke": "#000000", "strokeWidth": 7}, "encoding": {"x2": {"field": "x2"}}},
  {"transform": [{"filter": {"field": "k", "equal": "m"}}], "mark": {"type": "circle", "fill": "#000000", "size": 200, "opacity": 1}},
  {"transform": [{"filter": {"field": "k", "equal": "m"}}], "mark": {"type": "text", "align": "right", "baseline": "alphabetic", "dy": -11, "fontSize": 28, "color": "#000000"}, "encoding": {"x": {"datum": 1.7641}, "text": {"field": "g"}}}
 ]},
{"data": {"values": [{"x": 0}]}, "mark": {"type": "rule", "stroke": "#000000", "strokeWidth": 2.5, "strokeDash": [13, 7]}}
]
}
]
}
